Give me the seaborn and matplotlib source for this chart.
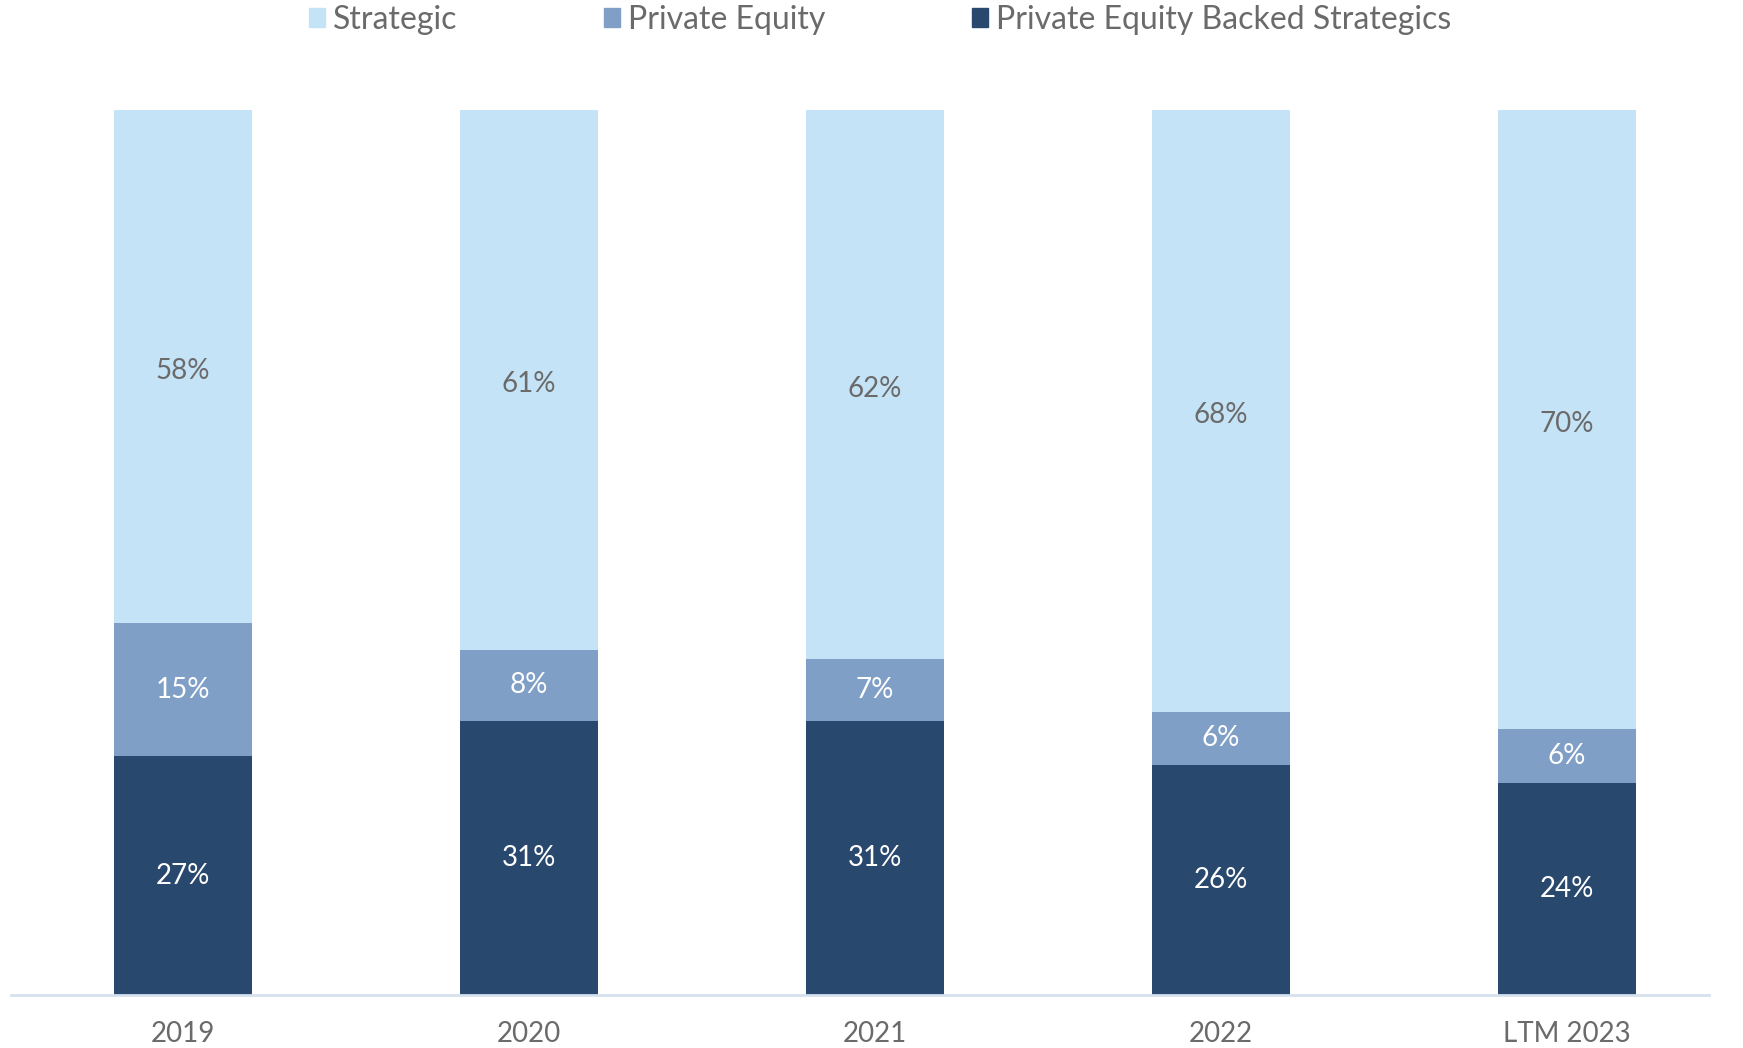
import pandas as pd
import matplotlib.pyplot as plt
import seaborn as sns
from matplotlib.patches import Patch

sns.set_theme(style="white")
plt.rcParams['font.family'] = ['Lato', 'DejaVu Sans']

years = ["2019", "2020", "2021", "2022", "LTM 2023"]
pe_backed = [27, 31, 31, 26, 24]
private_equity = [15, 8, 7, 6, 6]
strategic = [58, 61, 62, 68, 70]

c_strat = "#C5E3F6"
c_pe = "#7F9FC6"
c_pebs = "#29486D"
grey = "#6A6A6A"

df = pd.DataFrame({"Year": years, "PEBS": pe_backed, "PE": private_equity, "Strategic": strategic})
df["top"] = df["PEBS"] + df["PE"] + df["Strategic"]
df["mid"] = df["PEBS"] + df["PE"]

fig = plt.figure(figsize=(17.43, 10.48), dpi=100)
ax = fig.add_axes([0.0063, 0.0506, 0.9742, 0.8444])

# stacked look via overlapping cumulative bars
for col, c in [("top", c_strat), ("mid", c_pe), ("PEBS", c_pebs)]:
    sns.barplot(data=df, x="Year", y=col, color=c, width=0.4, saturation=1, linewidth=0, ax=ax)

for i, row in df.iterrows():
    ax.text(i, row["PEBS"] / 2, f"{row['PEBS']}%", ha="center", va="center", color="white", fontsize=20)
    ax.text(i, row["PEBS"] + row["PE"] / 2, f"{row['PE']}%", ha="center", va="center", color="white", fontsize=20)
    ax.text(i, row["mid"] + row["Strategic"] / 2 - 0.5, f"{row['Strategic']}%", ha="center", va="center",
            color=grey, fontsize=20)

ax.set_xlim(-0.497, 4.41)
ax.set_ylim(0, 100)
ax.set_xlabel("")
ax.set_ylabel("")
ax.set_yticks([])
for s in ["top", "right", "left"]:
    ax.spines[s].set_visible(False)
ax.spines["bottom"].set_color("#D5E1EF")
ax.spines["bottom"].set_linewidth(2)
ax.tick_params(axis="x", length=0, pad=19, labelsize=20, labelcolor=grey)

handles = [Patch(color=c_strat, label="Strategic"),
           Patch(color=c_pe, label="Private Equity"),
           Patch(color=c_pebs, label="Private Equity Backed Strategics")]
fig.legend(handles=handles, loc="center", bbox_to_anchor=(0.505, 0.981), ncol=3, frameon=False,
           fontsize=23, labelcolor=grey, handlelength=0.5, handleheight=0.5, handletextpad=0.25,
           columnspacing=4.6)

fig.savefig("out.png", dpi=100)
